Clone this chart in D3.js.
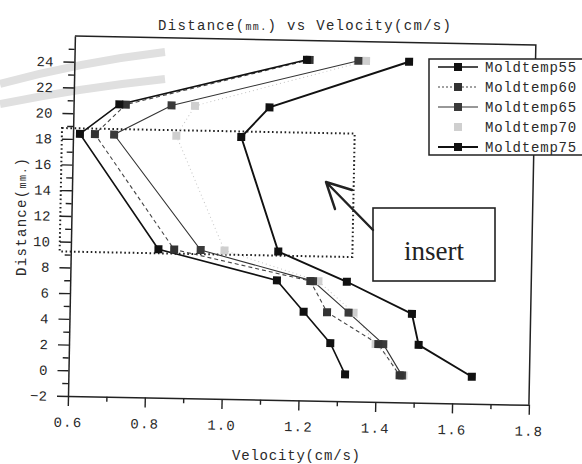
<!DOCTYPE html>
<html><head><meta charset="utf-8">
<script src="https://cdn.jsdelivr.net/npm/d3@7"></script>
<style>body{margin:0;background:#fff} svg{display:block}</style>
</head><body>
<svg id="c" width="582" height="464"></svg>
<script>
// ---- data ----
const distances = [24.5, 20.75, 18.4, 9.55, 7.3, 4.9, 2.5, 0.1];
const seriesNames = ["Moldtemp55", "Moldtemp60", "Moldtemp65", "Moldtemp70", "Moldtemp75"];
const mold55 = [1.205, 0.719, 0.618, 0.828, 1.138, 1.209, 1.280, 1.320];
const mold60 = [1.212, 0.736, 0.657, 0.869, 1.225, 1.270, 1.405, 1.462];
const mold65 = [1.339, 0.855, 0.707, 0.938, 1.232, 1.326, 1.418, 1.468];
const mold70 = [1.359, 0.916, 0.869, 1.000, 1.246, 1.339, 1.398, 1.472];
const mold75 = [1.471, 1.110, 1.038, 1.140, 1.320, 1.491, 1.510, 1.650];
const xTickValues = [0.6, 0.8, 1.0, 1.2, 1.4, 1.6, 1.8];
const xMinorValues = [0.7, 0.9, 1.1, 1.3, 1.5, 1.7];
const yTickValues = [-2, 0, 2, 4, 6, 8, 10, 12, 14, 16, 18, 20, 22, 24];
const yMinorValues = [-1, 1, 3, 5, 7, 9, 11, 13, 15, 17, 19, 21, 23, 25];
const insertX = [0.571, 1.333];
const insertY = [9.23, 18.83];
const insertLabel = "insert";

// ---- styles ----
const styles = [
  {stroke: "#111", width: 1.6, dash: null, fill: "#111"},
  {stroke: "#444", width: 1.1, dash: "4,3", fill: "#333"},
  {stroke: "#333", width: 1.1, dash: null, fill: "#3a3a3a"},
  {stroke: "#c4c4c4", width: 1.0, dash: "1,3", fill: "#cfcfcf"},
  {stroke: "#111", width: 1.9, dash: null, fill: "#111"}
];
const seriesVals = [mold55, mold60, mold65, mold70, mold75];
const series = seriesNames.map((n, i) => ({name: n, style: styles[i],
  pts: distances.map((d, j) => ({v: seriesVals[i][j], d}))}));

const svg = d3.select("#c");
const mono = "'Liberation Mono', 'DejaVu Sans Mono', monospace";

// faint scanned watermark bands
svg.append("path").attr("d", "M0,84 Q80,62 165,52").attr("fill", "none")
  .attr("stroke", "#e0e0e0").attr("stroke-width", 8);
svg.append("path").attr("d", "M0,104 Q80,88 165,79").attr("fill", "none")
  .attr("stroke", "#e0e0e0").attr("stroke-width", 8);

const x = d3.scaleLinear().domain([0.6, 1.8]).range([68, 529]);
const y = d3.scaleLinear().domain([-2, 26]).range([396, 36]);

const g = svg.append("g").attr("transform", "rotate(1.1,68,396)");

// frame (top and right borders)
g.append("path")
  .attr("d", `M${x(0.6)},${y(26)}H${x(1.8)}V${y(-2)}`)
  .attr("fill", "none").attr("stroke", "#222").attr("stroke-width", 1.5);

// axes
const xAxis = g.append("g").attr("transform", `translate(0,${y(-2)})`)
  .call(d3.axisBottom(x).tickValues(xTickValues).tickFormat(d3.format(".1f"))
    .tickSize(10).tickPadding(11).tickSizeOuter(0));
g.append("g").attr("transform", `translate(0,${y(-2)})`)
  .call(d3.axisBottom(x).tickValues(xMinorValues).tickFormat("").tickSize(5).tickSizeOuter(0))
  .select(".domain").remove();
const yAxis = g.append("g").attr("transform", `translate(${x(0.6)},0)`)
  .call(d3.axisLeft(y).tickValues(yTickValues).tickSize(11).tickPadding(10).tickSizeOuter(0));
g.append("g").attr("transform", `translate(${x(0.6)},0)`)
  .call(d3.axisLeft(y).tickValues(yMinorValues).tickFormat("").tickSize(6).tickSizeOuter(0))
  .select(".domain").remove();
g.selectAll(".domain").attr("stroke", "#222").attr("stroke-width", 1.5);
g.selectAll(".tick line").attr("stroke", "#222").attr("stroke-width", 1.4);
g.selectAll(".tick text").attr("font-family", mono).attr("font-size", 14)
  .attr("fill", "#2a2a2a");
xAxis.selectAll(".tick text").attr("letter-spacing", 1.2);

// insert dotted rectangle
g.append("rect")
  .attr("x", x(insertX[0])).attr("y", y(insertY[1]))
  .attr("width", x(insertX[1]) - x(insertX[0]))
  .attr("height", y(insertY[0]) - y(insertY[1]))
  .attr("fill", "none").attr("stroke", "#222").attr("stroke-width", 2)
  .attr("stroke-dasharray", "1.6,2.6");

// lines and markers
const line = d3.line().x(p => x(p.v)).y(p => y(p.d));
const order = [3, 2, 1, 0, 4];
order.forEach(i => {
  const s = series[i];
  g.append("path").datum(s.pts).attr("d", line).attr("fill", "none")
    .attr("stroke", s.style.stroke).attr("stroke-width", s.style.width)
    .attr("stroke-dasharray", s.style.dash);
});
order.forEach(i => {
  const s = series[i];
  g.append("g").selectAll("rect").data(s.pts).join("rect")
    .attr("x", p => x(p.v) - 4).attr("y", p => y(p.d) - 4)
    .attr("width", 8).attr("height", 8).attr("fill", s.style.fill);
});

// titles
const title = svg.append("text").attr("x", 158).attr("y", 30)
  .attr("font-family", mono).attr("font-size", 14).attr("fill", "#2a2a2a")
  .attr("textLength", 293).attr("lengthAdjust", "spacing");
title.append("tspan").text("Distance(");
title.append("tspan").attr("font-size", 10).text("mm.");
title.append("tspan").text(") vs Velocity(cm/s)");

svg.append("text").attr("x", 232).attr("y", 460)
  .attr("font-family", mono).attr("font-size", 14).attr("fill", "#2a2a2a")
  .attr("textLength", 128).attr("lengthAdjust", "spacing").text("Velocity(cm/s)");

const yt = svg.append("text").attr("transform", "translate(26,276) rotate(-90)")
  .attr("font-family", mono).attr("font-size", 14).attr("fill", "#2a2a2a")
  .attr("textLength", 118).attr("lengthAdjust", "spacing");
yt.append("tspan").text("Distance(");
yt.append("tspan").attr("font-size", 10).text("mm.");
yt.append("tspan").text(")");

// legend
const lg = svg.append("g");
lg.append("rect").attr("x", 429).attr("y", 59).attr("width", 200).attr("height", 96)
  .attr("fill", "#fff").attr("stroke", "#222").attr("stroke-width", 1.5);
series.forEach((s, i) => {
  const cy = 67 + i * 20;
  if (i !== 3) {
    lg.append("line").attr("x1", 438).attr("x2", 478).attr("y1", cy).attr("y2", cy)
      .attr("stroke", s.style.stroke).attr("stroke-width", s.style.width)
      .attr("stroke-dasharray", i === 1 ? "2,2" : null);
  }
  lg.append("rect").attr("x", 454).attr("y", cy - 4).attr("width", 8).attr("height", 8)
    .attr("fill", s.style.fill);
  lg.append("text").attr("x", 485).attr("y", cy + 5)
    .attr("font-family", mono).attr("font-size", 14).attr("fill", "#2a2a2a")
    .attr("letter-spacing", 0.8).text(s.name);
});

// insert callout box and arrow
svg.append("rect").attr("x", 373).attr("y", 208).attr("width", 122).attr("height", 73)
  .attr("fill", "#fff").attr("stroke", "#222").attr("stroke-width", 1.6);
svg.append("text").attr("x", 434).attr("y", 260).attr("text-anchor", "middle")
  .attr("font-family", "'Liberation Serif', 'Times New Roman', serif")
  .attr("font-size", 27).attr("fill", "#222").text(insertLabel);
svg.append("path").attr("d", "M373,230L326,182M326,182L335,209M326,182L352,190")
  .attr("fill", "none").attr("stroke", "#222").attr("stroke-width", 2.4)
  .attr("stroke-linecap", "round");
</script>
</body></html>
